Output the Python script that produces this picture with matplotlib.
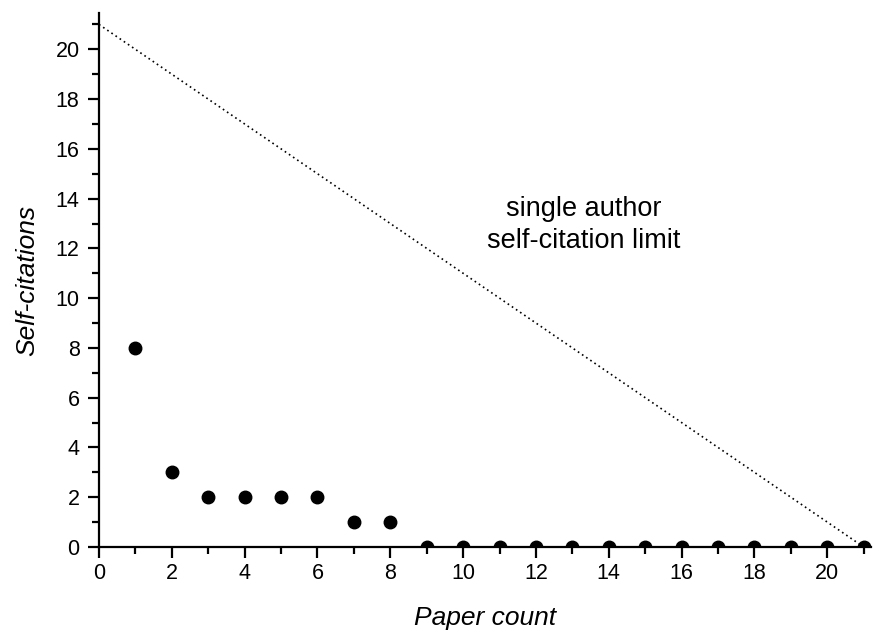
import matplotlib
matplotlib.use("Agg")
import matplotlib.pyplot as plt
from matplotlib.ticker import MultipleLocator

# data
paper_count = [1, 2, 3, 4, 5, 6, 7, 8, 9, 10, 11, 12, 13, 14, 15, 16, 17, 18, 19, 20, 21]
self_cites = [8, 3, 2, 2, 2, 2, 1, 1, 0, 0, 0, 0, 0, 0, 0, 0, 0, 0, 0, 0, 0]
limit_x = [0, 21]
limit_y = [21, 0]

plt.rcParams['font.family'] = ['Liberation Sans', 'DejaVu Sans']

fig = plt.figure(figsize=(8.73, 6.32), dpi=100)
ax = fig.add_axes([0.1134, 0.1345, 0.8843, 0.8445])

ax.plot(limit_x, limit_y, color='black', linestyle=(0, (1, 2)), linewidth=1.2)
ax.plot(paper_count, self_cites, 'o', color='black', markersize=9)

ax.text(13.3, 12.95, "single author\nself-citation limit", ha='center', va='center',
        fontsize=19.5, linespacing=1.3)

ax.set_xlim(0, 21.2)
ax.set_ylim(0, 21.45)

for s in ['top', 'right']:
    ax.spines[s].set_visible(False)
for s in ['left', 'bottom']:
    ax.spines[s].set_linewidth(1.6)

ax.xaxis.set_major_locator(MultipleLocator(2))
ax.xaxis.set_minor_locator(MultipleLocator(1))
ax.yaxis.set_major_locator(MultipleLocator(2))
ax.yaxis.set_minor_locator(MultipleLocator(1))
ax.tick_params(which='major', direction='out', length=8, width=1.6, labelsize=15.5)
ax.tick_params(axis='y', which='major', pad=6)
ax.tick_params(which='minor', direction='out', length=5, width=1.6)

ax.set_xlabel("Paper count", fontsize=19, style='italic', labelpad=16)
ax.set_ylabel("Self-citations", fontsize=19, style='italic', labelpad=12)

fig.savefig("out.png", dpi=100)
